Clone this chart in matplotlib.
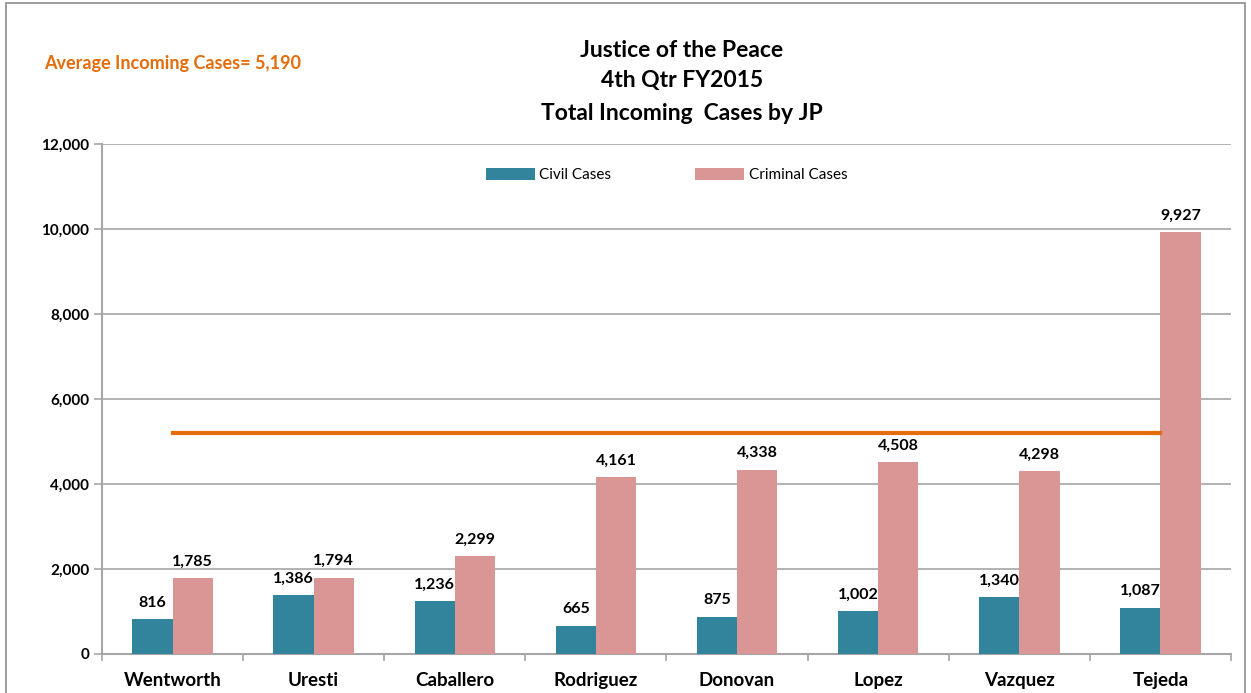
import matplotlib
matplotlib.use("Agg")
import matplotlib.pyplot as plt
from matplotlib.patches import Rectangle
from numpy import arange

# Justice of the Peace, 4th Qtr FY2015 - incoming cases by JP
judges = ['Wentworth', 'Uresti', 'Caballero', 'Rodriguez', 'Donovan', 'Lopez', 'Vazquez', 'Tejeda']
civil = [816, 1386, 1236, 665, 875, 1002, 1340, 1087]
criminal = [1785, 1794, 2299, 4161, 4338, 4508, 4298, 9927]
average = 5190
yticks = [0, 2000, 4000, 6000, 8000, 10000, 12000]

plt.rcParams['font.family'] = ['Lato', 'DejaVu Sans']

civil_color = '#31849B'
crim_color = '#D99694'
avg_color = '#E46C0A'
grid_color = '#A6A6A6'

fig = plt.figure(figsize=(12.51, 6.93), dpi=100)
ax = fig.add_axes([0.0815, 0.0563, 0.9025, 0.7359])

x = arange(len(judges))
w = 0.285

b1 = ax.bar(x - w/2, civil, w, color=civil_color, label='Civil Cases', zorder=3)
b2 = ax.bar(x + w/2, criminal, w, color=crim_color, label='Criminal Cases', zorder=3)

# average line from first to last category centre
ax.plot([x[0], x[-1]], [average, average], color=avg_color, lw=3, zorder=4)

for bars, vals in ((b1, civil), (b2, criminal)):
    for r, v in zip(bars, vals):
        ax.annotate(f'{v:,}', (r.get_x() + r.get_width()/2, v), xytext=(0, 7),
                    textcoords='offset points', ha='center', va='bottom',
                    fontsize=11.5, fontweight='bold', color='black', zorder=5)

ax.set_xlim(-0.5, len(judges) - 0.5)
ax.set_ylim(0, 12000)
ax.set_yticks(yticks)
ax.set_yticklabels([f'{t:,}' for t in yticks], fontsize=11, fontweight='bold')
ax.yaxis.grid(True, color=grid_color, lw=1.2, zorder=0)

ax.set_xticks(x)
ax.set_xticklabels(judges, fontsize=13.5, fontweight='bold')
ax.tick_params(axis='x', length=0, pad=13)
ax.set_xticks(arange(-0.5, len(judges)), minor=True)
ax.tick_params(axis='x', which='minor', length=5, color=grid_color, width=1.2)
ax.tick_params(axis='y', length=6, color=grid_color, width=1.2, pad=3)

for s in ('top', 'right'):
    ax.spines[s].set_visible(False)
for s in ('left', 'bottom'):
    ax.spines[s].set_color(grid_color)
    ax.spines[s].set_linewidth(1.5)

leg = ax.legend(loc='upper center', bbox_to_anchor=(0.5, 0.98), ncol=2, frameon=False,
                fontsize=11, handlelength=3.2, handleheight=0.8, handletextpad=0.3,
                columnspacing=5.5)

fig.text(0.545, 0.927, 'Justice of the Peace', ha='center', va='center', fontsize=16.5, fontweight='bold')
fig.text(0.545, 0.884, '4th Qtr FY2015', ha='center', va='center', fontsize=16.5, fontweight='bold')
fig.text(0.545, 0.836, 'Total Incoming  Cases by JP', ha='center', va='center', fontsize=16.5, fontweight='bold')

fig.text(0.035, 0.909, f'Average Incoming Cases= {average:,}', ha='left', va='center',
         fontsize=13, fontweight='bold', color=avg_color)

# outer chart border
fig.patches.append(Rectangle((0.005, -0.01), 0.99, 1.005, transform=fig.transFigure,
                             fill=False, edgecolor='#8C8C8C', lw=1.2))

fig.savefig('out.png', dpi=100)
